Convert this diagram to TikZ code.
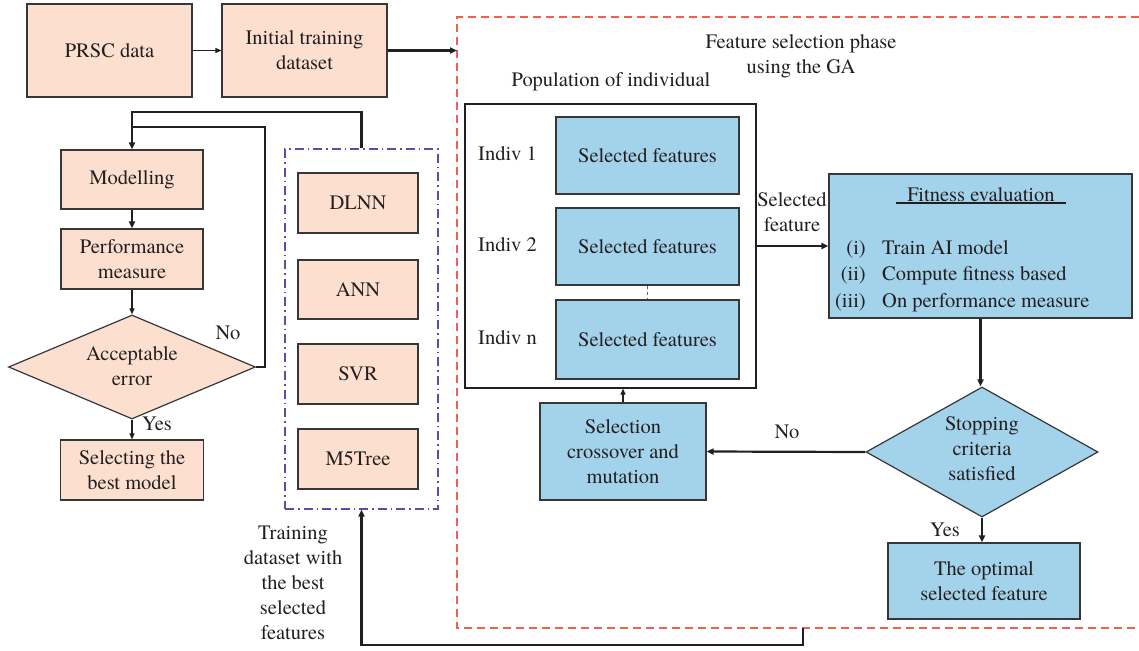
\documentclass[tikz,border=0pt]{standalone}
\usepackage{fontspec}
\setmainfont{texgyretermes}[Extension=.otf, UprightFont=*-regular, BoldFont=*-bold, ItalicFont=*-italic, BoldItalicFont=*-bolditalic]
\usetikzlibrary{arrows.meta,shapes.geometric}
\definecolor{peach}{RGB}{252,223,206}
\definecolor{lblue}{RGB}{163,210,235}
\definecolor{bordc}{RGB}{55,55,55}
\definecolor{redd}{RGB}{240,96,78}
\definecolor{purp}{RGB}{82,82,172}
\definecolor{ink}{RGB}{35,31,32}
\begin{document}
\begin{tikzpicture}[x=1pt,y=-1pt,
  font=\fontsize{20.5}{25}\selectfont, text=ink,
  pbox/.style={draw=bordc, line width=1.2pt, fill=peach, inner sep=0pt, align=center},
  bbox/.style={draw=bordc, line width=1.2pt, fill=lblue, inner sep=0pt, align=center},
  thinarr/.style={line width=1.1pt, draw=ink, -{Triangle[length=6pt,width=5pt]}},
  thickarr/.style={line width=2.2pt, draw=ink, -{Triangle[length=7pt,width=6pt]}},
  thickline/.style={line width=2.2pt, draw=ink},
  lbl/.style={inner sep=0pt, align=center}]
\useasboundingbox (0,0) rectangle (1139,650);
\fill[white] (0,0) rectangle (1139,650);

% frames
\draw[redd, line width=1.3pt, dash pattern=on 8pt off 5pt] (1139,17) -- (457,17) -- (457,628) -- (1139,628);
\node[draw=purp, line width=1.2pt, dash pattern=on 9pt off 4pt on 1.5pt off 4pt, minimum width=153, minimum height=360, inner sep=0pt] (mlbox) at (361.5,329) {};

% left part
\node[pbox, minimum width=165, minimum height=93] (prsc) at (109.5,50.5) {PRSC data};
\node[pbox, minimum width=165, minimum height=93] (init) at (304.5,50.5) {Initial training\\dataset};
\node[pbox, minimum width=142, minimum height=59] (model) at (132,179.5) {Modelling};
\node[pbox, minimum width=142, minimum height=60] (perf) at (132,259) {Performance\\measure};
\node[diamond, draw=bordc, line width=1.2pt, fill=peach, inner sep=0pt, minimum width=247, minimum height=104] (acc) at (132,367) {};
\node[lbl] (acct) at (132,366) {Acceptable\\error};
\node[pbox, minimum width=143, minimum height=60] (best) at (132,470) {Selecting the\\best model};

\node[pbox, minimum width=120, minimum height=60] (dlnn) at (358,203) {DLNN};
\node[pbox, minimum width=120, minimum height=59] (ann) at (358,289.5) {ANN};
\node[pbox, minimum width=120, minimum height=60] (svr) at (358,374) {SVR};
\node[pbox, minimum width=120, minimum height=60] (m5) at (358,459) {M5Tree};

\node[lbl] (train) at (293,583) {Training\\dataset with\\the best\\selected\\features};
\node[lbl] (no1) at (228,333) {No};
\node[lbl] (yes1) at (157,424) {Yes};

% right part
\node[lbl] (title) at (801,56) {Feature selection phase\\using the GA};
\node[lbl] (poplbl) at (611,82) {Population of individual};
\node[draw=ink, line width=1.2pt, fill=white, minimum width=291, minimum height=284, inner sep=0pt] (pop) at (610.5,246) {};
\node[bbox, minimum width=183, minimum height=77] (sf1) at (647.5,155.5) {Selected features};
\node[bbox, minimum width=183, minimum height=77] (sf2) at (647.5,246.5) {Selected features};
\node[bbox, minimum width=183, minimum height=79] (sf3) at (647.5,339.5) {Selected features};
\node[lbl, anchor=west] (i1) at (478,154) {Indiv 1};
\node[lbl, anchor=west] (i2) at (478,245) {Indiv 2};
\node[lbl, anchor=west] (i3) at (478,338) {Indiv n};
\draw[ink!70, line width=0.8pt, dash pattern=on 3pt off 3pt] (sf2.south) -- (sf3.north);

\node[lbl] (selfeat) at (792,212) {Selected\\feature};
\node[bbox, minimum width=303, minimum height=144] (fit) at (980.5,246) {};
\node[lbl] (fttl) at (981,195) {Fitness evaluation};
\draw[ink, line width=1.6pt] (896,203) -- (1066,203);
\node[lbl, anchor=base east] (n1) at (866,254) {(i)};
\node[lbl, anchor=base west] (t1) at (882,254) {Train AI model};
\node[lbl, anchor=base east] (n2) at (866,280.5) {(ii)};
\node[lbl, anchor=base west] (t2) at (882,280.5) {Compute fitness based};
\node[lbl, anchor=base east] (n3) at (866,307) {(iii)};
\node[lbl, anchor=base west] (t3) at (882,307) {On performance measure};

\node[diamond, draw=bordc, line width=1.2pt, fill=lblue, inner sep=0pt, minimum width=232, minimum height=130] (stop) at (982,452) {};
\node[lbl] (stopt) at (982,449) {Stopping\\criteria\\satisfied};
\node[bbox, minimum width=166, minimum height=97] (sel) at (623,451.5) {Selection\\crossover and\\mutation};
\node[bbox, minimum width=192, minimum height=76] (opt) at (984,581) {The optimal\\selected feature};
\node[lbl] (no2) at (787,432) {No};
\node[lbl] (yes2) at (945,530) {Yes};

% connectors
\coordinate (rl) at (457,50.5);
\coordinate (rb) at (803,628);
\coordinate (j1) at (132,127);
\coordinate (j2) at (132,112);
\draw[thinarr] (prsc.east) -- (init.west);
\draw[thickarr] (init.east) -- (rl);
\draw[thickarr] (mlbox.north) |- (j2) -- (model.north);
\draw[thickline] (acc.east) -- ++(9,0) |- (j1);
\draw[thickarr] (model.south) -- (perf.north);
\draw[thinarr] (perf.south) -- (acc.north);
\draw[thinarr] (acc.south) -- (best.north);
\draw[thickarr] (rb) -- ++(0,17) -| (mlbox.south);
\draw[thickarr] (pop.east) -- (fit.west);
\draw[thickarr] (fit.south) -- (fit.south |- stop.north);
\draw[thickarr] (stop.west) -- (sel.east);
\draw[thickarr] (stop.south) -- (stop.south |- opt.north);
\draw[thinarr] (sel.north) -- (sel.north |- pop.south);
\end{tikzpicture}
\end{document}
